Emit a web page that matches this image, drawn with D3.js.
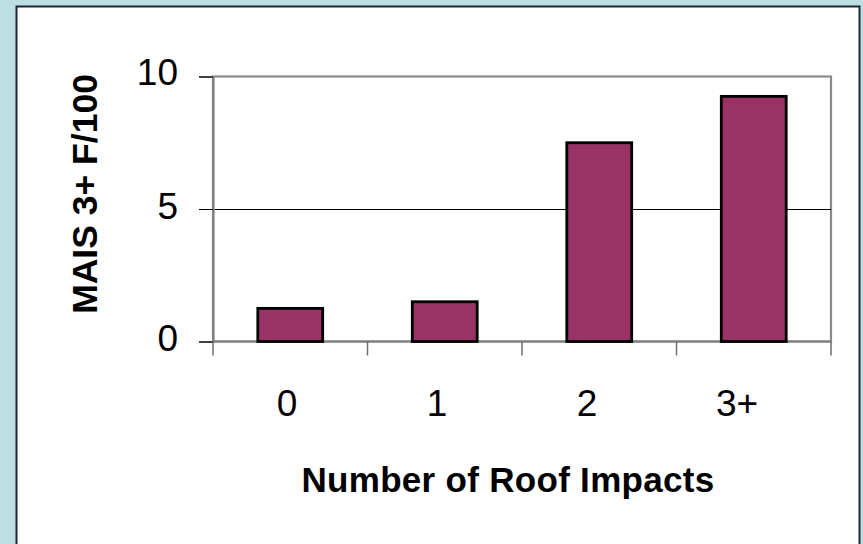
<!DOCTYPE html>
<html>
<head>
<meta charset="utf-8">
<script src="https://cdn.jsdelivr.net/npm/d3@7"></script>
<style>
  html, body { margin: 0; padding: 0; background: #bddfe2; }
  svg { display: block; }
  text { font-family: "Liberation Sans", Arial, sans-serif; fill: #000; }
</style>
</head>
<body>
<svg id="chart" width="863" height="544"></svg>
<script>
// Fatality/serious injury rate by number of roof impacts
const categories = ["0", "1", "2", "3+"];
const values = [1.25, 1.5, 7.5, 9.25];
const yTicks = [0, 5, 10];
const yTitle = "MAIS 3+ F/100";
const xTitle = "Number of Roof Impacts";

const svg = d3.select("#chart");
const W = 863, H = 544;

// white slide panel
svg.append("rect")
  .attr("x", 16.5).attr("y", 6.5)
  .attr("width", 843).attr("height", H)
  .attr("fill", "#fff")
  .attr("stroke", "#1c2530").attr("stroke-width", 2);

const plot = { left: 213, right: 831, top: 76.5, bottom: 341.5 };

const y = d3.scaleLinear().domain([0, 10]).range([plot.bottom, plot.top]);
const x = d3.scaleBand().domain(categories)
  .range([plot.left, plot.right])
  .paddingInner(0.58).paddingOuter(0.29);

// tick labels sit on a slightly narrower band layout
const xl = d3.scaleBand().domain(categories).range([plot.left - 1, plot.right - 19]);

// plot frame
svg.append("rect")
  .attr("x", plot.left).attr("y", plot.top)
  .attr("width", plot.right - plot.left).attr("height", plot.bottom - plot.top)
  .attr("fill", "none").attr("stroke", "#8a8a8a").attr("stroke-width", 2.2);

// gridline(s)
svg.append("g").selectAll("line")
  .data(yTicks.filter(d => d > 0 && d < 10))
  .join("line")
  .attr("x1", plot.left).attr("x2", plot.right)
  .attr("y1", d => Math.round(y(d)) + 0.5).attr("y2", d => Math.round(y(d)) + 0.5)
  .attr("stroke", "#000").attr("stroke-width", 1.2);

// y axis
const yAxis = d3.axisLeft(y).tickValues(yTicks).tickSize(14).tickPadding(21);
const gy = svg.append("g").attr("transform", `translate(${plot.left},0)`).call(yAxis);
gy.select(".domain").attr("stroke", "#808080").attr("stroke-width", 2.2);
gy.selectAll(".tick line").attr("stroke", "#000").attr("stroke-width", 1);
gy.selectAll(".tick text")
  .style("font-size", "37px")
  .attr("dy", "0.25em");
gy.selectAll(".tick").filter(d => d === 10).select("text").attr("dy", "0.21em");

// x axis line and category dividers
const xAxisG = svg.append("g");
xAxisG.append("line")
  .attr("x1", plot.left).attr("x2", plot.right)
  .attr("y1", plot.bottom).attr("y2", plot.bottom)
  .attr("stroke", "#808080").attr("stroke-width", 2);
const boundaries = d3.range(categories.length + 1).map(i => plot.left + i * x.step());
xAxisG.selectAll("line.div")
  .data(boundaries)
  .join("line").attr("class", "div")
  .attr("x1", d => d).attr("x2", d => d)
  .attr("y1", plot.bottom).attr("y2", plot.bottom + 14)
  .attr("stroke", "#6e6e6e").attr("stroke-width", 1.5);

// bars
svg.append("g").selectAll("rect")
  .data(values)
  .join("rect")
  .attr("x", (d, i) => x(categories[i]))
  .attr("width", x.bandwidth())
  .attr("y", d => y(d))
  .attr("height", d => y(0) - y(d))
  .attr("fill", "#993366")
  .attr("stroke", "#000").attr("stroke-width", 2.8);

// category labels
svg.append("g").selectAll("text")
  .data(categories)
  .join("text")
  .attr("x", d => xl(d) + xl.bandwidth() / 2)
  .attr("y", 415.5)
  .attr("text-anchor", "middle")
  .style("font-size", "37px")
  .text(d => d);

// axis titles
svg.append("text")
  .attr("transform", `translate(96.5,194) rotate(-90)`)
  .attr("text-anchor", "middle")
  .style("font-size", "35.5px").style("font-weight", "bold")
  .text(yTitle);

svg.append("text")
  .attr("x", 508).attr("y", 491.5)
  .attr("text-anchor", "middle")
  .style("font-size", "35px").style("font-weight", "bold")
  .style("letter-spacing", "0.3px")
  .text(xTitle);
</script>
</body>
</html>
